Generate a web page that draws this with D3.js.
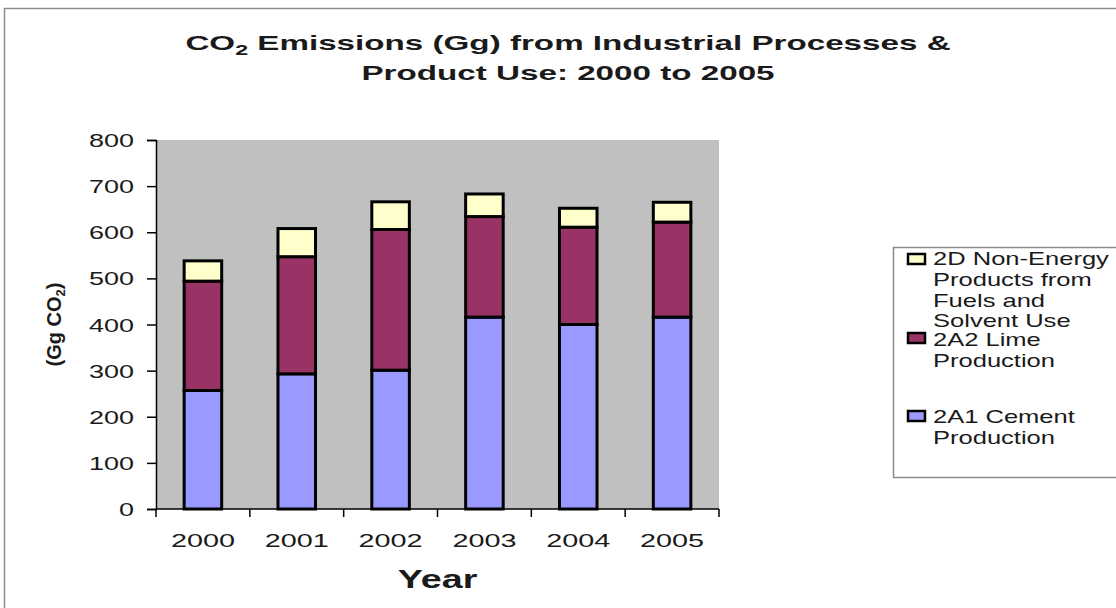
<!DOCTYPE html>
<html>
<head>
<meta charset="utf-8">
<script src="https://cdn.jsdelivr.net/npm/d3@7"></script>
<style>
  html, body { margin: 0; padding: 0; background: #fff; }
  svg { display: block; font-family: "Liberation Sans", Arial, sans-serif; }
</style>
</head>
<body>
<svg id="chart" width="1116" height="608"></svg>
<script>
// Emissions by source category, Gg CO2
const years = ["2000", "2001", "2002", "2003", "2004", "2005"];
const cement = [257, 293, 301, 416, 400, 416];
const lime = [237, 254, 305, 218, 211, 206];
const nonEnergy = [44, 61, 60, 49, 41, 43];
const yTicks = [0, 100, 200, 300, 400, 500, 600, 700, 800];

const seriesKeys = ["cement", "lime", "nonEnergy"];
const seriesColors = { cement: "#9999FF", lime: "#993366", nonEnergy: "#FFFFCC" };
const legendItems = [
  { key: "nonEnergy", lines: ["2D Non-Energy", "Products from", "Fuels and", "Solvent Use"] },
  { key: "lime", lines: ["2A2 Lime", "Production"] },
  { key: "cement", lines: ["2A1 Cement", "Production"] }
];

const rows = years.map((y, i) => ({ year: y, cement: cement[i], lime: lime[i], nonEnergy: nonEnergy[i] }));

const svg = d3.select("#chart");
const TEXT = "#1a1a1a";

// text drawn with a wide horizontal aspect
function wideText(parent, x, y, sx, size, anchor, weight) {
  return parent.append("text")
    .attr("transform", `translate(${x},${y}) scale(${sx},1)`)
    .attr("text-anchor", anchor)
    .attr("font-size", size)
    .attr("font-weight", weight || "normal")
    .attr("fill", TEXT);
}

// outer chart frame
svg.append("rect")
  .attr("x", 4.5).attr("y", 8.5).attr("width", 1130).attr("height", 620)
  .attr("fill", "#fff").attr("stroke", "#8c8c8c").attr("stroke-width", 1.5);

const plot = { left: 156, right: 719, top: 140, bottom: 509 };

const xCat = d3.scaleBand().domain(years).range([plot.left, plot.right]);
const y = d3.scaleLinear().domain([0, 800]).range([plot.bottom, plot.top]);

// plot background
svg.append("rect")
  .attr("x", plot.left).attr("y", plot.top)
  .attr("width", plot.right - plot.left).attr("height", plot.bottom - plot.top)
  .attr("fill", "#C0C0C0");

// stacked bars
const stacked = d3.stack().keys(seriesKeys)(rows);
svg.append("g").selectAll("g")
  .data(stacked)
  .join("g")
  .attr("fill", d => seriesColors[d.key])
  .selectAll("rect")
  .data(d => d)
  .join("rect")
  .attr("x", d => xCat(d.data.year) + xCat.bandwidth() * 0.3)
  .attr("width", xCat.bandwidth() * 0.4)
  .attr("y", d => y(d[1]))
  .attr("height", d => y(d[0]) - y(d[1]))
  .attr("stroke", "#000")
  .attr("stroke-width", 3);

// y axis
const yAxis = svg.append("g")
  .attr("transform", `translate(${plot.left},0)`)
  .call(d3.axisLeft(y).tickValues(yTicks).tickSize(9).tickFormat(""));
yAxis.select(".domain").attr("stroke", "#000").attr("stroke-width", 1.5);
yAxis.selectAll(".tick line").attr("stroke", "#000").attr("stroke-width", 1.5);
yAxis.selectAll(".tick").each(function (d) {
  wideText(d3.select(this), -22, 6.5, 1.5, 18, "end").text(d);
});

// x axis: ticks sit on category boundaries
const xAxisG = svg.append("g").attr("transform", `translate(0,${plot.bottom})`);
xAxisG.append("line")
  .attr("x1", plot.left).attr("x2", plot.right)
  .attr("stroke", "#000").attr("stroke-width", 1.5);
const boundaries = years.map(d => xCat(d)).concat([plot.right]);
xAxisG.selectAll("line.tk")
  .data(boundaries)
  .join("line")
  .attr("class", "tk")
  .attr("x1", d => d).attr("x2", d => d)
  .attr("y1", 0).attr("y2", 8)
  .attr("stroke", "#000").attr("stroke-width", 1.5);
years.forEach(d => {
  wideText(xAxisG, xCat(d) + xCat.bandwidth() / 2, 37.5, 1.6, 18, "middle").text(d);
});

// axis titles
wideText(svg, (plot.left + plot.right) / 2, 588, 1.45, 26, "middle", "bold").text("Year");

const yTitle = svg.append("text")
  .attr("transform", `translate(61,${(plot.top + plot.bottom) / 2}) rotate(-90)`)
  .attr("text-anchor", "middle")
  .attr("font-size", 20).attr("font-weight", "bold").attr("fill", TEXT);
yTitle.append("tspan").text("(Gg CO");
yTitle.append("tspan").attr("font-size", 13).attr("dy", 4).text("2");
yTitle.append("tspan").attr("dy", -4).text(")");

// chart title
const t1 = wideText(svg, 568, 50, 1.66, 20, "middle", "bold");
t1.append("tspan").text("CO");
t1.append("tspan").attr("font-size", 14).attr("dy", 5).text("2");
t1.append("tspan").attr("dy", -5).text(" Emissions (Gg) from Industrial Processes &");
wideText(svg, 568, 80, 1.66, 20, "middle", "bold").text("Product Use: 2000 to 2005");

// legend
const legend = svg.append("g");
legend.append("rect")
  .attr("x", 893.5).attr("y", 247.5).attr("width", 240).attr("height", 230)
  .attr("fill", "#fff").attr("stroke", "#8c8c8c").attr("stroke-width", 1.5);

const legendBase = [265, 346, 423];
const swatchTop = [254, 333, 411];
const lineStep = 20.8;
legendItems.forEach((item, i) => {
  const g = legend.append("g");
  g.append("rect")
    .attr("x", 908).attr("y", swatchTop[i])
    .attr("width", 17).attr("height", 10)
    .attr("fill", seriesColors[item.key])
    .attr("stroke", "#000").attr("stroke-width", 2.5);
  item.lines.forEach((ln, j) => {
    wideText(g, 933, legendBase[i] + j * lineStep, 1.38, 18.5, "start").text(ln);
  });
});
</script>
</body>
</html>
